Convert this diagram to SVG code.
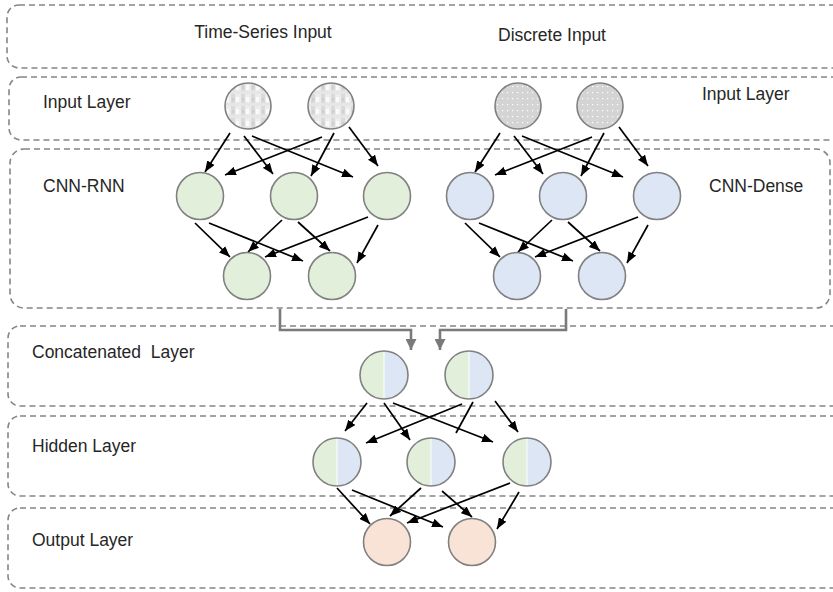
<svg xmlns="http://www.w3.org/2000/svg" width="833" height="592" viewBox="0 0 833 592">
<style>
.band{fill:none;stroke:#858585;stroke-width:1.6;stroke-dasharray:6 4}
.lbl{font-family:"Liberation Sans",Arial,sans-serif;font-size:17.5px;fill:#262626}
.node{stroke:#808080;stroke-width:1.6}
.g{fill:#e2efda}
.b{fill:#dce6f4}
.o{fill:#f9e3d6}
.edge{stroke:#000;stroke-width:1.7;fill:none}
.merge{stroke:#7a7a7a;stroke-width:2.6;fill:none}
</style>
<defs>
<marker id="ah" viewBox="0 0 10 8" refX="10" refY="4" markerWidth="11" markerHeight="9" markerUnits="userSpaceOnUse" orient="auto">
<path d="M0,0 L10,4 L0,8 z" fill="#000"/>
</marker>
<marker id="gh" viewBox="0 0 10 10" refX="10" refY="5" markerWidth="11" markerHeight="11" markerUnits="userSpaceOnUse" orient="auto">
<path d="M0,0 L10,5 L0,10 z" fill="#7a7a7a"/>
</marker>
<pattern id="plaid" width="10" height="12" patternUnits="userSpaceOnUse">
<rect width="10" height="12" fill="#ececec"/>
<rect x="1" y="0" width="4" height="12" fill="#dadada"/>
<rect x="0" y="7" width="10" height="3" fill="#e6e6e6"/>
<rect x="6" y="1" width="3" height="5" fill="#fafafa"/>
<rect x="2" y="2" width="2" height="3" fill="#cfcfcf"/>
</pattern>
<pattern id="dots" width="5" height="6" patternUnits="userSpaceOnUse">
<rect width="5" height="6" fill="#d4d4d4"/>
<rect x="2" y="2" width="1.2" height="1.2" fill="#ffffff"/>
</pattern>
</defs>

<g id="bands">
<rect id="band-top" class="band" x="7" y="5" width="850" height="63" rx="12"/>
<rect id="band-input" class="band" x="9" y="77" width="850" height="63" rx="12"/>
<rect id="band-cnn" class="band" x="10" y="149" width="820" height="159" rx="14"/>
<rect id="band-concat" class="band" x="8" y="326" width="850" height="80" rx="12"/>
<rect id="band-hidden" class="band" x="8" y="416" width="850" height="80" rx="12"/>
<rect id="band-output" class="band" x="8" y="508" width="850" height="80" rx="12"/>
</g>

<g id="labels">
<text class="lbl" x="263" y="38" text-anchor="middle">Time-Series Input</text>
<text class="lbl" x="552" y="41" text-anchor="middle">Discrete Input</text>
<text class="lbl" x="43" y="108">Input Layer</text>
<text class="lbl" x="702" y="100">Input Layer</text>
<text class="lbl" x="43" y="192">CNN-RNN</text>
<text class="lbl" x="709" y="192">CNN-Dense</text>
<text class="lbl" x="32" y="358" xml:space="preserve">Concatenated  Layer</text>
<text class="lbl" x="32" y="452">Hidden Layer</text>
<text class="lbl" x="32" y="546">Output Layer</text>
</g>

<g id="connectors">
<line class="edge" x1="230" y1="133" x2="205" y2="172" marker-end="url(#ah)"/>
<line class="edge" x1="244" y1="136" x2="273" y2="174" marker-end="url(#ah)"/>
<line class="edge" x1="252" y1="136" x2="353" y2="177" marker-end="url(#ah)"/>
<line class="edge" x1="322" y1="137" x2="225" y2="175" marker-end="url(#ah)"/>
<line class="edge" x1="334" y1="133" x2="311" y2="176" marker-end="url(#ah)"/>
<line class="edge" x1="349" y1="127" x2="378" y2="166" marker-end="url(#ah)"/>
<line class="edge" x1="195" y1="223" x2="230" y2="257" marker-end="url(#ah)"/>
<line class="edge" x1="209" y1="223" x2="303" y2="261" marker-end="url(#ah)"/>
<line class="edge" x1="282" y1="220" x2="248" y2="252" marker-end="url(#ah)"/>
<line class="edge" x1="298" y1="222" x2="330" y2="251" marker-end="url(#ah)"/>
<line class="edge" x1="368" y1="217" x2="265" y2="257" marker-end="url(#ah)"/>
<line class="edge" x1="378" y1="225" x2="357" y2="263" marker-end="url(#ah)"/>
<line class="edge" x1="500" y1="133" x2="475" y2="172" marker-end="url(#ah)"/>
<line class="edge" x1="514" y1="136" x2="543" y2="174" marker-end="url(#ah)"/>
<line class="edge" x1="522" y1="136" x2="623" y2="177" marker-end="url(#ah)"/>
<line class="edge" x1="592" y1="137" x2="495" y2="175" marker-end="url(#ah)"/>
<line class="edge" x1="604" y1="133" x2="581" y2="176" marker-end="url(#ah)"/>
<line class="edge" x1="619" y1="127" x2="648" y2="166" marker-end="url(#ah)"/>
<line class="edge" x1="465" y1="223" x2="500" y2="257" marker-end="url(#ah)"/>
<line class="edge" x1="479" y1="223" x2="573" y2="261" marker-end="url(#ah)"/>
<line class="edge" x1="552" y1="220" x2="518" y2="252" marker-end="url(#ah)"/>
<line class="edge" x1="568" y1="222" x2="600" y2="251" marker-end="url(#ah)"/>
<line class="edge" x1="638" y1="217" x2="535" y2="257" marker-end="url(#ah)"/>
<line class="edge" x1="648" y1="225" x2="627" y2="263" marker-end="url(#ah)"/>
<path class="merge" d="M280,309 V330 H411 V350" marker-end="url(#gh)"/>
<path class="merge" d="M566,309 V330 H440 V350" marker-end="url(#gh)"/>
<line class="edge" x1="367" y1="403" x2="345" y2="431" marker-end="url(#ah)"/>
<line class="edge" x1="384" y1="403" x2="410" y2="440" marker-end="url(#ah)"/>
<line class="edge" x1="393" y1="403" x2="493" y2="442" marker-end="url(#ah)"/>
<line class="edge" x1="462" y1="404" x2="366" y2="443" marker-end="url(#ah)"/>
<line class="edge" x1="473" y1="402" x2="456" y2="433"/>
<line class="edge" x1="495" y1="401" x2="518" y2="432" marker-end="url(#ah)"/>
<line class="edge" x1="337" y1="488" x2="370" y2="524" marker-end="url(#ah)"/>
<line class="edge" x1="352" y1="490" x2="443" y2="527" marker-end="url(#ah)"/>
<line class="edge" x1="421" y1="488" x2="390" y2="516" marker-end="url(#ah)"/>
<line class="edge" x1="442" y1="491" x2="472" y2="517" marker-end="url(#ah)"/>
<line class="edge" x1="510" y1="483" x2="407" y2="523" marker-end="url(#ah)"/>
<line class="edge" x1="519" y1="492" x2="497" y2="529" marker-end="url(#ah)"/>
</g>

<g id="in-ts-1"><circle class="node" cx="248" cy="106" r="23" fill="url(#plaid)"/></g>
<g id="in-ts-2"><circle class="node" cx="331" cy="106" r="23" fill="url(#plaid)"/></g>
<g id="in-d-1"><circle class="node" cx="518" cy="106" r="23" fill="url(#dots)"/></g>
<g id="in-d-2"><circle class="node" cx="600" cy="106" r="23" fill="url(#dots)"/></g>

<g id="rnn-1-1"><circle class="node g" cx="200" cy="196" r="23.5"/></g>
<g id="rnn-1-2"><circle class="node g" cx="294" cy="196" r="23.5"/></g>
<g id="rnn-1-3"><circle class="node g" cx="387" cy="196" r="23.5"/></g>
<g id="rnn-2-1"><circle class="node g" cx="247" cy="276" r="23.5"/></g>
<g id="rnn-2-2"><circle class="node g" cx="332" cy="276" r="23.5"/></g>

<g id="dense-1-1"><circle class="node b" cx="470" cy="196" r="23.5"/></g>
<g id="dense-1-2"><circle class="node b" cx="563" cy="196" r="23.5"/></g>
<g id="dense-1-3"><circle class="node b" cx="657" cy="196" r="23.5"/></g>
<g id="dense-2-1"><circle class="node b" cx="517" cy="276" r="23.5"/></g>
<g id="dense-2-2"><circle class="node b" cx="602" cy="276" r="23.5"/></g>

<g id="concat-1" transform="translate(384,375)">
<path d="M0,-24 A24,24 0 0 0 0,24 z" class="g"/><path d="M0,-24 A24,24 0 0 1 0,24 z" class="b"/>
<line x1="0" y1="-24" x2="0" y2="24" stroke="#fff" stroke-width="1"/>
<circle r="24" fill="none" class="node"/></g>
<g id="concat-2" transform="translate(469,375)">
<path d="M0,-24 A24,24 0 0 0 0,24 z" class="g"/><path d="M0,-24 A24,24 0 0 1 0,24 z" class="b"/>
<line x1="0" y1="-24" x2="0" y2="24" stroke="#fff" stroke-width="1"/>
<circle r="24" fill="none" class="node"/></g>

<g id="hidden-1" transform="translate(337,462)">
<path d="M0,-24 A24,24 0 0 0 0,24 z" class="g"/><path d="M0,-24 A24,24 0 0 1 0,24 z" class="b"/>
<line x1="0" y1="-24" x2="0" y2="24" stroke="#fff" stroke-width="1"/>
<circle r="24" fill="none" class="node"/></g>
<g id="hidden-2" transform="translate(431,462)">
<path d="M0,-24 A24,24 0 0 0 0,24 z" class="g"/><path d="M0,-24 A24,24 0 0 1 0,24 z" class="b"/>
<line x1="0" y1="-24" x2="0" y2="24" stroke="#fff" stroke-width="1"/>
<circle r="24" fill="none" class="node"/></g>
<g id="hidden-3" transform="translate(527,462)">
<path d="M0,-24 A24,24 0 0 0 0,24 z" class="g"/><path d="M0,-24 A24,24 0 0 1 0,24 z" class="b"/>
<line x1="0" y1="-24" x2="0" y2="24" stroke="#fff" stroke-width="1"/>
<circle r="24" fill="none" class="node"/></g>

<g id="out-1"><circle class="node o" cx="387" cy="542" r="23.5"/></g>
<g id="out-2"><circle class="node o" cx="472" cy="542" r="23.5"/></g>
</svg>
